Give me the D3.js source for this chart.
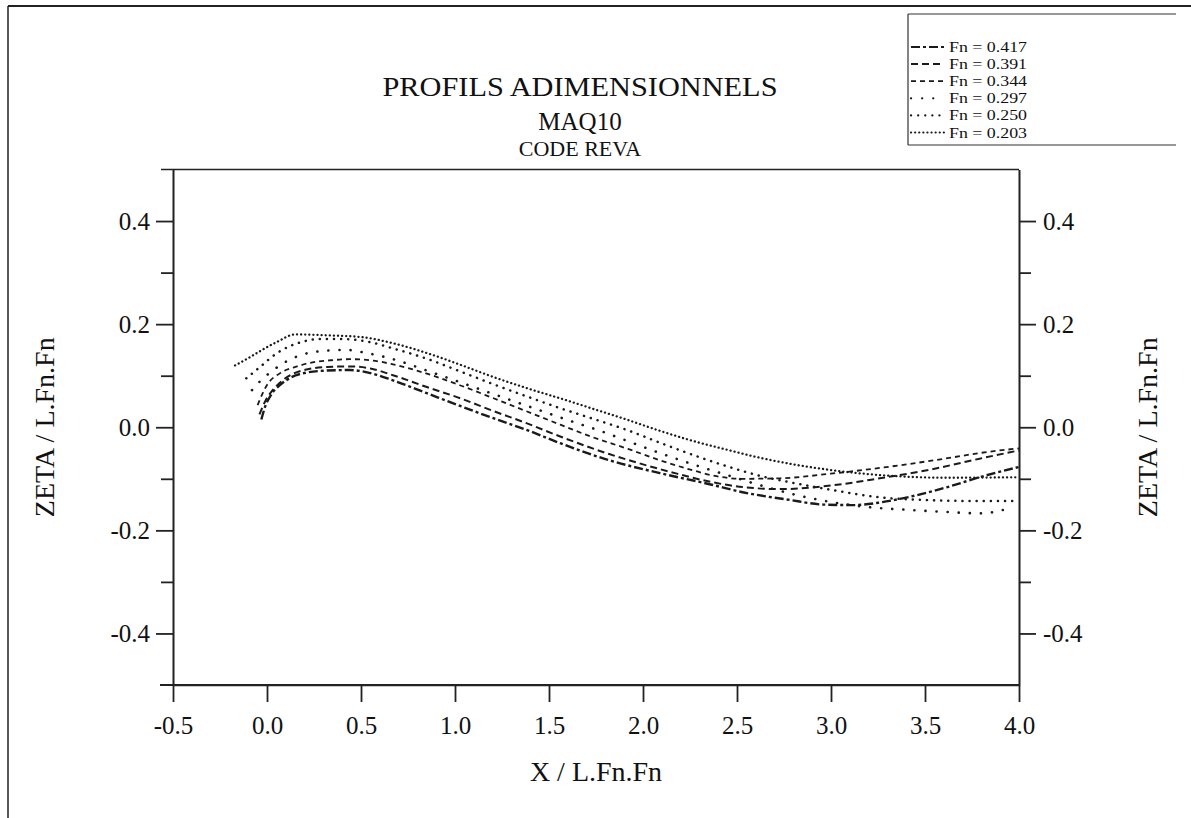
<!DOCTYPE html>
<html>
<head>
<meta charset="utf-8">
<script src="https://cdn.jsdelivr.net/npm/d3@7"></script>
<style>
  html, body { margin: 0; padding: 0; background: #fff; }
  svg { display: block; }
  text { font-family: "Liberation Serif", "Times New Roman", serif; fill: #111; }
</style>
</head>
<body>
<svg id="chart" width="1191" height="818"></svg>
<script>
// ---------- data ----------
const titleLines = ["PROFILS ADIMENSIONNELS", "MAQ10", "CODE REVA"];
const xLabel = "X / L.Fn.Fn";
const yLabel = "ZETA / L.Fn.Fn";
const xTicks = [-0.5, 0.0, 0.5, 1.0, 1.5, 2.0, 2.5, 3.0, 3.5, 4.0];
const yMajorTicks = [-0.4, -0.2, 0.0, 0.2, 0.4];
const yMinorTicks = [-0.3, -0.1, 0.1, 0.3];
const fnLabels = ["Fn = 0.417", "Fn = 0.391", "Fn = 0.344", "Fn = 0.297", "Fn = 0.250", "Fn = 0.203"];

const fn417 = [[-0.03,0.015],[-0.01,0.040],[0.02,0.062],[0.07,0.082],[0.13,0.097],[0.21,0.106],[0.32,0.110],[0.44,0.111],[0.55,0.105],[0.67,0.091],[0.85,0.066],[1.03,0.041],[1.20,0.018],[1.38,-0.005],[1.56,-0.031],[1.82,-0.064],[2.09,-0.089],[2.36,-0.111],[2.53,-0.126],[2.78,-0.141],[2.96,-0.150],[3.12,-0.151],[3.26,-0.146],[3.38,-0.138],[3.62,-0.116],[3.79,-0.097],[4.00,-0.077]];
const fn391 = [[-0.04,0.025],[-0.01,0.050],[0.03,0.072],[0.08,0.090],[0.14,0.104],[0.21,0.112],[0.32,0.117],[0.44,0.118],[0.55,0.114],[0.67,0.101],[0.85,0.078],[1.03,0.056],[1.20,0.032],[1.38,0.008],[1.56,-0.018],[1.82,-0.052],[2.00,-0.072],[2.18,-0.090],[2.36,-0.106],[2.53,-0.116],[2.73,-0.120],[3.00,-0.113],[3.26,-0.099],[3.53,-0.082],[3.79,-0.061],[4.00,-0.045]];
const fn344 = [[-0.05,0.043],[0.00,0.082],[0.07,0.105],[0.16,0.118],[0.23,0.125],[0.34,0.130],[0.44,0.132],[0.55,0.130],[0.67,0.122],[0.85,0.104],[1.03,0.081],[1.20,0.057],[1.38,0.031],[1.56,0.005],[1.73,-0.019],[1.92,-0.042],[2.09,-0.064],[2.27,-0.084],[2.39,-0.095],[2.53,-0.100],[2.73,-0.099],[3.00,-0.090],[3.17,-0.083],[3.44,-0.070],[3.62,-0.060],[3.83,-0.048],[4.00,-0.041]];
const fn297 = [[-0.08,0.072],[-0.04,0.088],[0.03,0.110],[0.10,0.127],[0.18,0.140],[0.30,0.148],[0.42,0.150],[0.53,0.144],[0.69,0.130],[0.85,0.110],[1.03,0.087],[1.20,0.065],[1.38,0.042],[1.60,0.014],[1.78,-0.008],[1.92,-0.027],[2.09,-0.050],[2.30,-0.076],[2.45,-0.093],[2.60,-0.110],[2.80,-0.130],[3.00,-0.145],[3.20,-0.155],[3.40,-0.160],[3.60,-0.164],[3.80,-0.167],[3.95,-0.157]];
const fn250 = [[-0.11,0.095],[-0.04,0.116],[0.05,0.143],[0.18,0.165],[0.28,0.171],[0.40,0.171],[0.55,0.165],[0.67,0.153],[0.85,0.133],[1.03,0.108],[1.20,0.084],[1.38,0.060],[1.56,0.037],[1.73,0.017],[1.92,-0.006],[2.09,-0.030],[2.30,-0.058],[2.45,-0.076],[2.62,-0.094],[2.80,-0.108],[3.01,-0.122],[3.26,-0.136],[3.49,-0.141],[3.75,-0.143],[3.97,-0.143]];
const fn203 = [[-0.17,0.120],[-0.10,0.134],[-0.04,0.147],[0.05,0.165],[0.15,0.180],[0.34,0.178],[0.50,0.175],[0.67,0.163],[0.85,0.144],[1.03,0.121],[1.20,0.098],[1.38,0.076],[1.56,0.056],[1.74,0.035],[1.92,0.014],[2.09,-0.007],[2.27,-0.027],[2.45,-0.044],[2.62,-0.059],[2.80,-0.072],[3.00,-0.083],[3.17,-0.090],[3.35,-0.095],[3.62,-0.098],[4.00,-0.097]];

const seriesData = [fn417, fn391, fn344, fn297, fn250, fn203];
// styles (presentation only)
const seriesStyle = [
  {dash: "9,3,3,3", w: 2.4, cap: "butt"},
  {dash: "7,4", w: 2.0, cap: "butt"},
  {dash: "5,4", w: 1.8, cap: "butt"},
  {dash: "0.1,11", w: 2.6, cap: "round"},
  {dash: "0.1,7", w: 2.5, cap: "round"},
  {dash: "0.1,4", w: 2.3, cap: "round"}
];

// ---------- drawing ----------
const svg = d3.select("#chart");
const x = d3.scaleLinear().domain([-0.5, 4.0]).range([173, 1019]);
const y = d3.scaleLinear().domain([-0.5, 0.5]).range([685, 169.5]);
const fmt = d => d.toFixed(1);

// outer frame
svg.append("line").attr("x1", 8).attr("x2", 8).attr("y1", 6).attr("y2", 818).attr("stroke", "#222").attr("stroke-width", 1.5);
svg.append("line").attr("x1", 8).attr("x2", 1191).attr("y1", 6).attr("y2", 6).attr("stroke", "#222").attr("stroke-width", 2);

// titles
svg.append("text").attr("x", 580).attr("y", 96).attr("text-anchor", "middle")
  .attr("font-size", 28).attr("textLength", 395).attr("lengthAdjust", "spacingAndGlyphs").text(titleLines[0]);
svg.append("text").attr("x", 580).attr("y", 130).attr("text-anchor", "middle")
  .attr("font-size", 25).text(titleLines[1]);
svg.append("text").attr("x", 580).attr("y", 156).attr("text-anchor", "middle")
  .attr("font-size", 22).text(titleLines[2]);

// axes
const gBottom = svg.append("g").attr("transform", `translate(0,${y(-0.5)})`)
  .call(d3.axisBottom(x).tickValues(xTicks).tickFormat(fmt).tickSize(17).tickSizeOuter(0).tickPadding(14));
const gLeft = svg.append("g").attr("transform", `translate(${x(-0.5)},0)`)
  .call(d3.axisLeft(y).tickValues(yMajorTicks).tickFormat(fmt).tickSize(17).tickSizeOuter(0).tickPadding(6));
const gLeftMinor = svg.append("g").attr("transform", `translate(${x(-0.5)},0)`)
  .call(d3.axisLeft(y).tickValues(yMinorTicks).tickFormat("").tickSize(12).tickSizeOuter(0));
const gRight = svg.append("g").attr("transform", `translate(${x(4.0)},0)`)
  .call(d3.axisRight(y).tickValues(yMajorTicks).tickFormat(fmt).tickSize(17).tickSizeOuter(0).tickPadding(7));
const gRightMinor = svg.append("g").attr("transform", `translate(${x(4.0)},0)`)
  .call(d3.axisRight(y).tickValues(yMinorTicks).tickFormat("").tickSize(12).tickSizeOuter(0));

[gBottom, gLeft, gLeftMinor, gRight, gRightMinor].forEach(g => {
  g.selectAll("path.domain").attr("stroke", "#222").attr("stroke-width", 1.6);
  g.selectAll(".tick line").attr("stroke", "#222").attr("stroke-width", 1.8);
  g.selectAll(".tick text").attr("font-family", "Liberation Serif, serif").attr("font-size", 25).attr("fill", "#111");
});

// extended bottom and top frame lines
svg.append("line").attr("x1", x(-0.5) - 13).attr("x2", x(4.0)).attr("y1", y(-0.5)).attr("y2", y(-0.5)).attr("stroke", "#222").attr("stroke-width", 2);
svg.append("line").attr("x1", x(-0.5) - 12).attr("x2", x(4.0)).attr("y1", y(0.5)).attr("y2", y(0.5)).attr("stroke", "#222").attr("stroke-width", 1.6);

// axis titles
svg.append("text").attr("x", 596).attr("y", 781).attr("text-anchor", "middle").attr("font-size", 28).text(xLabel);
svg.append("text").attr("transform", `translate(54,${y(0)}) rotate(-90)`).attr("text-anchor", "middle").attr("font-size", 28).text(yLabel);
svg.append("text").attr("transform", `translate(1157,${y(0)}) rotate(-90)`).attr("text-anchor", "middle").attr("font-size", 28).text(yLabel);

// curves
const line = d3.line().x(d => x(d[0])).y(d => y(d[1])).curve(d3.curveMonotoneX);
seriesData.forEach((s, i) => {
  svg.append("path").datum(s).attr("d", line).attr("fill", "none")
    .attr("stroke", "#1a1a1a").attr("stroke-width", seriesStyle[i].w)
    .attr("stroke-dasharray", seriesStyle[i].dash).attr("stroke-linecap", seriesStyle[i].cap);
});

// legend
const lg = svg.append("g");
lg.append("line").attr("x1", 908).attr("x2", 908).attr("y1", 14).attr("y2", 145).attr("stroke", "#333").attr("stroke-width", 1.2);
lg.append("line").attr("x1", 908).attr("x2", 1176).attr("y1", 14).attr("y2", 14).attr("stroke", "#333").attr("stroke-width", 1.2);
lg.append("line").attr("x1", 908).attr("x2", 1176).attr("y1", 145).attr("y2", 145).attr("stroke", "#333").attr("stroke-width", 1.2);
fnLabels.forEach((lab, i) => {
  const yy = 47 + i * 17.1;
  lg.append("line").attr("x1", 911).attr("x2", 944).attr("y1", yy).attr("y2", yy)
    .attr("stroke", "#1a1a1a").attr("stroke-width", Math.min(seriesStyle[i].w, 2.2))
    .attr("stroke-dasharray", seriesStyle[i].dash).attr("stroke-linecap", seriesStyle[i].cap);
  lg.append("text").attr("x", 949).attr("y", yy + 5).attr("font-size", 15)
    .attr("textLength", 78).attr("lengthAdjust", "spacingAndGlyphs").text(lab);
});
</script>
</body>
</html>
